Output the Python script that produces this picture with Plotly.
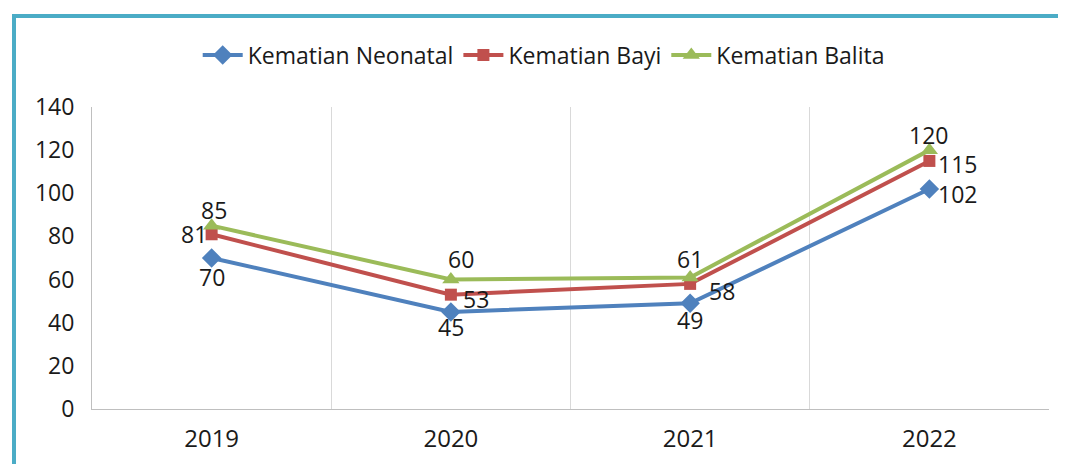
import plotly.graph_objects as go

# data
years = ["2019", "2020", "2021", "2022"]
neonatal = [70, 45, 49, 102]
bayi = [81, 53, 58, 115]
balita = [85, 60, 61, 120]

# label offsets (px) per point: (dx, dy), dy positive = up
offNeonatal = [(0, -19), (0, -15), (0, -17), (28, -5)]
offBayi = [(-18, 0), (25, -4), (32, -7), (28, -3)]
offBalita = [(2, 16), (10, 21), (0, 18), (-1, 15)]

fontFam = "Open Sans, Liberation Sans, sans-serif"
textColor = "#1a1a1a"

fig = go.Figure()

series = [
  ("Kematian Neonatal", neonatal, "#4F81BD", "diamond", 15, offNeonatal),
  ("Kematian Bayi", bayi, "#C0504D", "square", 12, offBayi),
  ("Kematian Balita", balita, "#9BBB59", "triangle-up", 15, offBalita),
]
for name, vals, color, sym, size, offs in series:
  fig.add_trace(go.Scatter(
    x=years, y=vals, name=name,
    mode="lines+markers",
    line=dict(color=color, width=4),
    marker=dict(symbol=sym, size=size, color=color),
    cliponaxis=False,
  ))
  # data labels (x as category index)
  for i, (v, (dx, dy)) in enumerate(zip(vals, offs)):
    fig.add_annotation(
      x=i, y=v, text=str(v), showarrow=False,
      xshift=dx, yshift=dy,
      font=dict(size=23, color=textColor, family=fontFam),
    )

fig.update_layout(
  width=1050, height=456,
  margin=dict(l=84, r=9, t=99, b=55, autoexpand=False),
  paper_bgcolor="white",
  plot_bgcolor="white",
  font=dict(family=fontFam, color=textColor),
  showlegend=True,
  legend=dict(
    orientation="h", x=0.472, xanchor="center", y=1.172, yanchor="middle",
    font=dict(size=23, color=textColor),
    bgcolor="rgba(0,0,0,0)",
    itemwidth=40, tracegroupgap=0,
  ),
)

fig.update_xaxes(
  type="category",
  range=[-0.5, 3.5],
  tickson="boundaries",
  showgrid=True, gridcolor="#d9d9d9", gridwidth=1,
  showline=True, linecolor="#bfbfbf", linewidth=1,
  ticks="", ticklabelstandoff=8,
  tickfont=dict(size=24, color=textColor),
)
fig.update_yaxes(
  range=[0, 140], dtick=20,
  showgrid=False, zeroline=False,
  showline=True, linecolor="#bfbfbf", linewidth=1,
  ticks="", ticklabelstandoff=12,
  tickfont=dict(size=23, color=textColor),
)

# teal frame around the chart
fig.add_shape(
  type="rect", xref="paper", yref="paper",
  x0=-0.0815, x1=1.1, y0=-0.25, y1=1.301,
  line=dict(color="#4BACC6", width=4),
  layer="below",
)

fig.write_html("out.html")
